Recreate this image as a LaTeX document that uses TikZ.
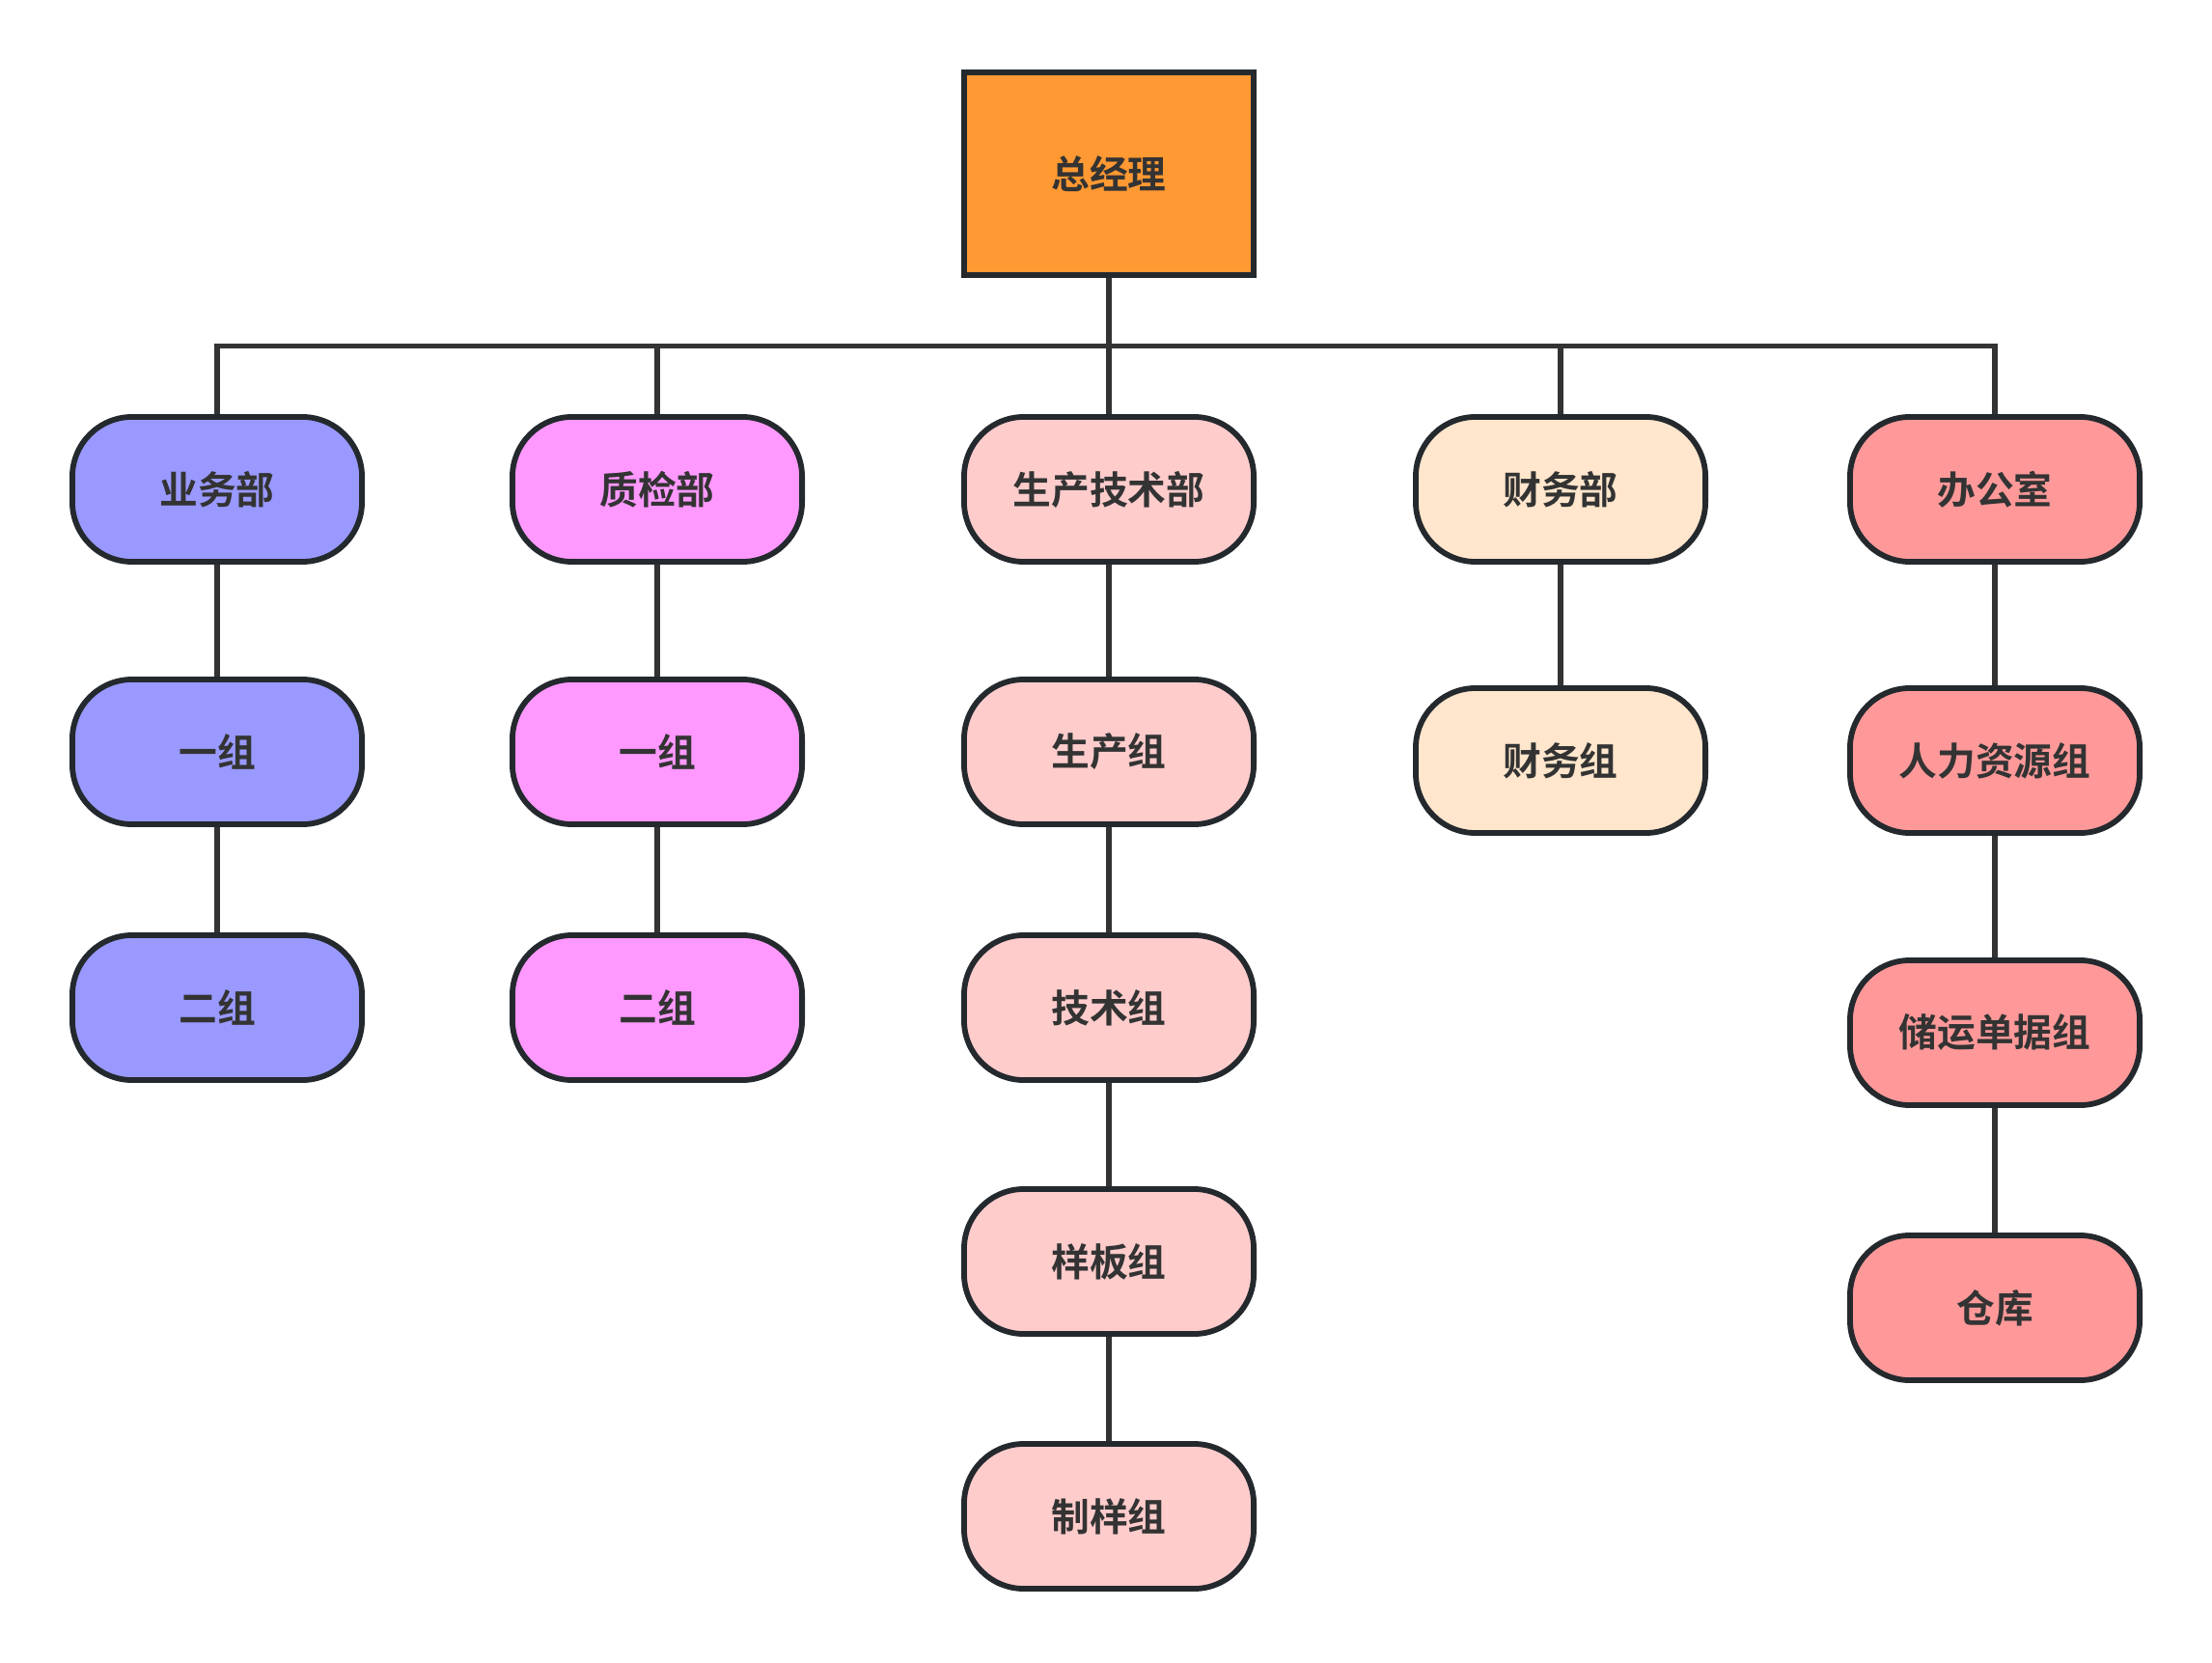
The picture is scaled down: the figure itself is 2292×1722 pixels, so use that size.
\documentclass[tikz,border=0pt]{standalone}
\usepackage{fontspec}
\usepackage{tikz}
\usetikzlibrary{calc}
\newfontfamily\cjkbold{Noto Sans CJK SC Bold}

\definecolor{boxline}{HTML}{24292E}
\definecolor{wire}{HTML}{333333}
\definecolor{txt}{HTML}{333333}
\definecolor{orangefill}{HTML}{FF9933}
\definecolor{bluefill}{HTML}{9999FF}
\definecolor{pinkfill}{HTML}{FF99FF}
\definecolor{rosefill}{HTML}{FFCCCC}
\definecolor{peachfill}{HTML}{FFE6CC}
\definecolor{salmonfill}{HTML}{FF9999}

\begin{document}
\begin{tikzpicture}[x=0.01cm,y=-0.01cm,
	every node/.style={font=\cjkbold\fontsize{11.3pt}{13pt}\selectfont,text=txt},
	boss/.style={draw=boxline,line width=1.65pt,fill=orangefill,
		minimum width=3.0cm,minimum height=2.1cm,inner sep=0pt},
	unit/.style={draw=boxline,line width=1.65pt,rounded corners=0.62cm,
		minimum width=3.0cm,minimum height=1.5cm,inner sep=0pt},
	wire/.style={draw=wire,line width=1.55pt}]
	\useasboundingbox (0,0) rectangle (2292,1722);

	\node[boss] (gm) at (1149,180) {总经理};

	% departments
	\node[unit,fill=bluefill]   (d1) at (225,507)  {业务部};
	\node[unit,fill=pinkfill]   (d2) at (681,507)  {质检部};
	\node[unit,fill=rosefill]   (d3) at (1149,507) {生产技术部};
	\node[unit,fill=peachfill]  (d4) at (1617,507) {财务部};
	\node[unit,fill=salmonfill] (d5) at (2067,507) {办公室};

	% groups
	\node[unit,fill=bluefill] (d1a) at (225,779)  {一组};
	\node[unit,fill=bluefill] (d1b) at (225,1044) {二组};

	\node[unit,fill=pinkfill] (d2a) at (681,779)  {一组};
	\node[unit,fill=pinkfill] (d2b) at (681,1044) {二组};

	\node[unit,fill=rosefill] (d3a) at (1149,779)  {生产组};
	\node[unit,fill=rosefill] (d3b) at (1149,1044) {技术组};
	\node[unit,fill=rosefill] (d3c) at (1149,1307) {样板组};
	\node[unit,fill=rosefill] (d3d) at (1149,1571) {制样组};

	\node[unit,fill=peachfill] (d4a) at (1617,788) {财务组};

	\node[unit,fill=salmonfill] (d5a) at (2067,788)  {人力资源组};
	\node[unit,fill=salmonfill] (d5b) at (2067,1070) {储运单据组};
	\node[unit,fill=salmonfill] (d5c) at (2067,1355) {仓库};

	% connectors
	\coordinate (bus) at ($(gm.south)!0.5!(d3.north)$);
	\draw[wire] (gm.south) -- (bus);
	\foreach \n in {d1,d2,d3,d4,d5}
		\draw[wire] (\n.north) |- (bus);

	\draw[wire] (d1) -- (d1a) (d1a) -- (d1b);
	\draw[wire] (d2) -- (d2a) (d2a) -- (d2b);
	\draw[wire] (d3) -- (d3a) (d3a) -- (d3b) (d3b) -- (d3c) (d3c) -- (d3d);
	\draw[wire] (d4) -- (d4a);
	\draw[wire] (d5) -- (d5a) (d5a) -- (d5b) (d5b) -- (d5c);
\end{tikzpicture}
\end{document}
